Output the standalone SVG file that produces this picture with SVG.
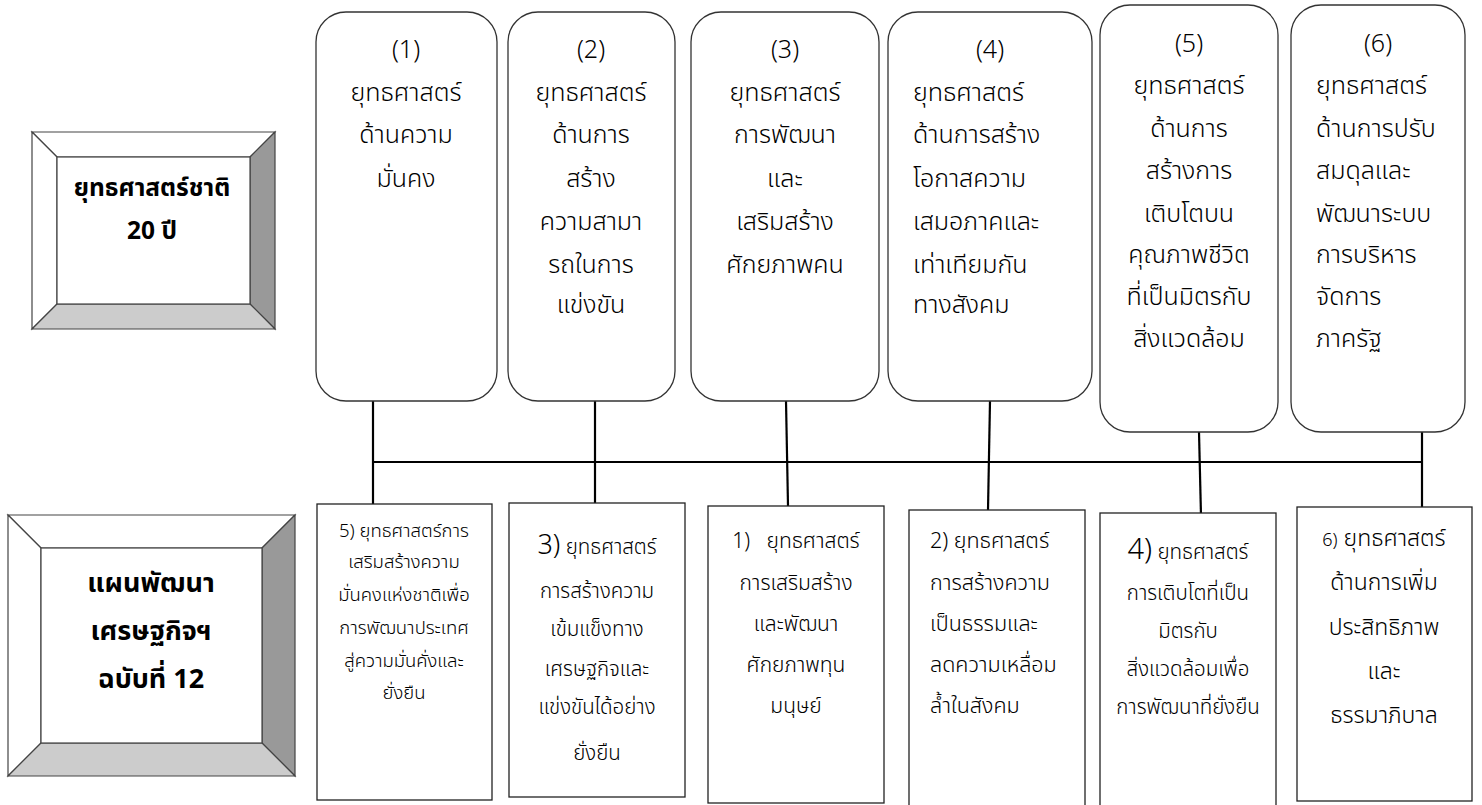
<svg xmlns="http://www.w3.org/2000/svg" width="1482" height="805" viewBox="0 0 1482 805">
<style>
.bg{fill:#ffffff}
.rbox{fill:#ffffff;stroke:#333333;stroke-width:1.3}
.sbox{fill:#ffffff;stroke:#222222;stroke-width:1.3}
.bv{stroke:#444444;stroke-width:1.2}
.lt{fill:#ffffff}
.dk{fill:#999999}
.md{fill:#cccccc}
.conn{stroke:#000000;stroke-width:2.2;fill:none}
.t{font-family:"Noto Sans Thai","Noto Sans","DejaVu Sans",sans-serif;fill:#000000;font-weight:300}
.tb{font-family:"Noto Sans Thai","Noto Sans","DejaVu Sans",sans-serif;fill:#000000;font-weight:700}
.top{font-size:25px}
.mid{text-anchor:middle}
</style>
<rect class="bg" x="0" y="0" width="1482" height="805"/>

<g id="national-strategy">
  <polygon class="lt bv" points="32,132 275,132 250,157 57,157"/>
  <polygon class="lt bv" points="32,132 57,157 57,304 32,329"/>
  <polygon class="dk bv" points="275,132 275,329 250,304 250,157"/>
  <polygon class="md bv" points="32,329 57,304 250,304 275,329"/>
  <rect x="57" y="157" width="193" height="147" fill="#ffffff" class="bv"/>
  <text class="tb mid" font-size="24.5" x="152" y="196">ยุทธศาสตร์ชาติ</text>
  <text class="tb mid" font-size="24.5" x="152" y="239">20 ปี</text>
</g>

<g id="development-plan">
  <polygon class="lt bv" points="8,515 295,515 262,548 41,548"/>
  <polygon class="lt bv" points="8,515 41,548 41,743 8,776"/>
  <polygon class="dk bv" points="295,515 295,776 262,743 262,548"/>
  <polygon class="md bv" points="8,776 41,743 262,743 295,776"/>
  <rect x="41" y="548" width="221" height="195" fill="#ffffff" class="bv"/>
  <text class="tb mid" font-size="27" x="151" y="592">แผนพัฒนา</text>
  <text class="tb mid" font-size="27" x="151" y="640">เศรษฐกิจฯ</text>
  <text class="tb mid" font-size="27" x="151" y="688">ฉบับที่ 12</text>
</g>

<g id="connectors">
  <line class="conn" x1="372" y1="462" x2="1422" y2="462"/>
  <line class="conn" x1="373" y1="401" x2="373" y2="504"/>
  <line class="conn" x1="595" y1="401" x2="595" y2="503"/>
  <line class="conn" x1="786" y1="401" x2="788" y2="506"/>
  <line class="conn" x1="990" y1="401" x2="988" y2="510"/>
  <line class="conn" x1="1199" y1="432" x2="1201" y2="516"/>
  <line class="conn" x1="1422" y1="432" x2="1422" y2="507"/>
</g>

<g id="s1">
  <rect class="rbox" x="316" y="12" width="181" height="389" rx="30"/>
  <text class="t top mid"><tspan x="406" y="58">(1)</tspan><tspan x="406" y="101">ยุทธศาสตร์</tspan><tspan x="406" y="143">ด้านความ</tspan><tspan x="406" y="187">มั่นคง</tspan></text>
</g>
<g id="s2">
  <rect class="rbox" x="508" y="12" width="167" height="389" rx="30"/>
  <text class="t top mid"><tspan x="591" y="58">(2)</tspan><tspan x="591" y="101">ยุทธศาสตร์</tspan><tspan x="591" y="143">ด้านการ</tspan><tspan x="591" y="187">สร้าง</tspan><tspan x="591" y="230">ความสามา</tspan><tspan x="591" y="273">รถในการ</tspan><tspan x="591" y="313">แข่งขัน</tspan></text>
</g>
<g id="s3">
  <rect class="rbox" x="691" y="12" width="188" height="389" rx="30"/>
  <text class="t top mid"><tspan x="785" y="58">(3)</tspan><tspan x="785" y="101">ยุทธศาสตร์</tspan><tspan x="785" y="143">การพัฒนา</tspan><tspan x="785" y="187">และ</tspan><tspan x="785" y="230">เสริมสร้าง</tspan><tspan x="785" y="273">ศักยภาพคน</tspan></text>
</g>
<g id="s4">
  <rect class="rbox" x="888" y="12" width="204" height="389" rx="30"/>
  <text class="t top"><tspan class="mid" x="990" y="58">(4)</tspan><tspan x="913" y="101">ยุทธศาสตร์</tspan><tspan x="913" y="143">ด้านการสร้าง</tspan><tspan x="913" y="187">โอกาสความ</tspan><tspan x="913" y="230">เสมอภาคและ</tspan><tspan x="913" y="273">เท่าเทียมกัน</tspan><tspan x="913" y="313">ทางสังคม</tspan></text>
</g>
<g id="s5">
  <rect class="rbox" x="1100" y="5" width="178" height="427" rx="30"/>
  <text class="t top mid"><tspan x="1189" y="52">(5)</tspan><tspan x="1189" y="94">ยุทธศาสตร์</tspan><tspan x="1189" y="137">ด้านการ</tspan><tspan x="1189" y="179">สร้างการ</tspan><tspan x="1189" y="222">เติบโตบน</tspan><tspan x="1189" y="263">คุณภาพชีวิต</tspan><tspan x="1189" y="305">ที่เป็นมิตรกับ</tspan><tspan x="1189" y="347">สิ่งแวดล้อม</tspan></text>
</g>
<g id="s6">
  <rect class="rbox" x="1291" y="5" width="174" height="427" rx="30"/>
  <text class="t top"><tspan class="mid" x="1378" y="52">(6)</tspan><tspan x="1316" y="94">ยุทธศาสตร์</tspan><tspan x="1316" y="137">ด้านการปรับ</tspan><tspan x="1316" y="179">สมดุลและ</tspan><tspan x="1316" y="222">พัฒนาระบบ</tspan><tspan x="1316" y="263">การบริหาร</tspan><tspan x="1316" y="305">จัดการ</tspan><tspan x="1316" y="347">ภาครัฐ</tspan></text>
</g>

<g id="p5">
  <rect class="sbox" x="317" y="504" width="175" height="296"/>
  <text class="t mid" font-size="18.5"><tspan x="404" y="537">5) ยุทธศาสตร์การ</tspan><tspan x="404" y="568">เสริมสร้างความ</tspan><tspan x="404" y="601">มั่นคงแห่งชาติเพื่อ</tspan><tspan x="404" y="634">การพัฒนาประเทศ</tspan><tspan x="404" y="667">สู่ความมั่นคั่งและ</tspan><tspan x="404" y="699">ยั่งยืน</tspan></text>
</g>
<g id="p3">
  <rect class="sbox" x="509" y="503" width="176" height="294"/>
  <text class="t mid" font-size="20.5"><tspan x="597" y="554"><tspan font-size="27">3)</tspan> ยุทธศาสตร์</tspan><tspan x="597" y="598">การสร้างความ</tspan><tspan x="597" y="636">เข้มแข็งทาง</tspan><tspan x="597" y="676">เศรษฐกิจและ</tspan><tspan x="597" y="714">แข่งขันได้อย่าง</tspan><tspan x="597" y="760">ยั่งยืน</tspan></text>
</g>
<g id="p1">
  <rect class="sbox" x="708" y="506" width="176" height="297"/>
  <text class="t mid" font-size="21"><tspan x="796" y="548">1)&#160;&#160; ยุทธศาสตร์</tspan><tspan x="796" y="590">การเสริมสร้าง</tspan><tspan x="796" y="631">และพัฒนา</tspan><tspan x="796" y="672">ศักยภาพทุน</tspan><tspan x="796" y="713">มนุษย์</tspan></text>
</g>
<g id="p2">
  <rect class="sbox" x="909" y="510" width="176" height="300"/>
  <text class="t" font-size="21.5"><tspan x="930" y="548">2) ยุทธศาสตร์</tspan><tspan x="930" y="590">การสร้างความ</tspan><tspan x="930" y="631">เป็นธรรมและ</tspan><tspan x="930" y="672">ลดความเหลื่อม</tspan><tspan x="930" y="713">ล้ำในสังคม</tspan></text>
</g>
<g id="p4">
  <rect class="sbox" x="1100" y="513" width="176" height="297"/>
  <text class="t mid" font-size="20.5"><tspan x="1188" y="559"><tspan font-size="29">4)</tspan> ยุทธศาสตร์</tspan><tspan x="1188" y="600">การเติบโตที่เป็น</tspan><tspan x="1188" y="638">มิตรกับ</tspan><tspan x="1188" y="676">สิ่งแวดล้อมเพื่อ</tspan><tspan x="1188" y="714">การพัฒนาที่ยั่งยืน</tspan></text>
</g>
<g id="p6">
  <rect class="sbox" x="1297" y="507" width="175" height="294"/>
  <text class="t mid" font-size="23"><tspan x="1384" y="546"><tspan font-size="18">6)</tspan> ยุทธศาสตร์</tspan><tspan x="1384" y="590">ด้านการเพิ่ม</tspan><tspan x="1384" y="635">ประสิทธิภาพ</tspan><tspan x="1384" y="679">และ</tspan><tspan x="1384" y="723">ธรรมาภิบาล</tspan></text>
</g>
</svg>
